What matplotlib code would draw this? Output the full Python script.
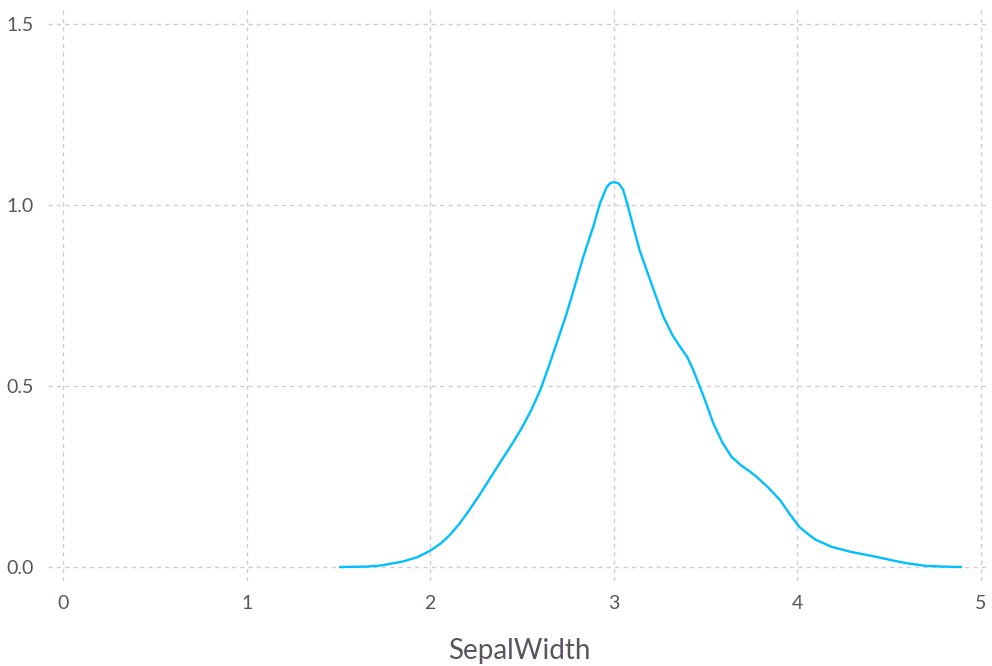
import matplotlib
matplotlib.use("Agg")
import matplotlib.pyplot as plt

# density curve
sepal_width = [1.51, 1.65, 1.73, 1.85, 1.93, 2.0, 2.06, 2.11, 2.16, 2.21,
               2.27, 2.33, 2.39, 2.45, 2.50, 2.55, 2.60, 2.65, 2.70, 2.743,
               2.79, 2.834, 2.888, 2.925, 2.96, 2.98, 3.0, 3.025, 3.05, 3.075,
               3.106, 3.14, 3.179, 3.23, 3.27, 3.32, 3.36, 3.40, 3.433, 3.49,
               3.542, 3.59, 3.64, 3.69, 3.74, 3.778, 3.84, 3.905, 3.96, 4.01,
               4.06, 4.1, 4.19, 4.29, 4.43, 4.52, 4.6, 4.7, 4.8, 4.89]
density = [0.0, 0.001, 0.004, 0.015, 0.027, 0.045, 0.066, 0.090, 0.120, 0.155,
           0.200, 0.248, 0.296, 0.343, 0.385, 0.433, 0.489, 0.56, 0.635, 0.70,
           0.78, 0.857, 0.94, 1.005, 1.048, 1.06, 1.063, 1.06, 1.043, 1.0,
           0.94, 0.876, 0.82, 0.747, 0.691, 0.64, 0.609, 0.58, 0.544, 0.47,
           0.397, 0.345, 0.305, 0.282, 0.264, 0.249, 0.22, 0.185, 0.145, 0.111,
           0.09, 0.075, 0.055, 0.042, 0.028, 0.018, 0.010, 0.003, 0.001, 0.0]
x_ticks = [0, 1, 2, 3, 4, 5]
y_ticks = [0.0, 0.5, 1.0, 1.5]

plt.rcParams['font.family'] = ['Lato', 'DejaVu Sans']

fig = plt.figure(figsize=(9.92, 6.66), dpi=100)
ax = fig.add_axes([48 / 992, 1 - 581 / 666, (990 - 48) / 992, (581 - 8) / 666])

ax.plot(sepal_width, density, color="#00bfff", linewidth=1.7,
        solid_joinstyle="round", zorder=3)

ax.set_xlim(-0.0817, 5.049)
ax.set_ylim(-0.0387, 1.544)
ax.set_xticks(x_ticks)
ax.set_xticklabels([str(t) for t in x_ticks])
ax.set_yticks(y_ticks)
ax.set_yticklabels(["%.1f" % t for t in y_ticks])

ax.grid(True, color="#cdcbe0", linestyle=(0, (3, 3)), linewidth=1.0)
for s in ax.spines.values():
    s.set_visible(False)
ax.tick_params(length=0, labelsize=14, labelcolor="#5b535e", pad=10)

ax.set_xlabel("SepalWidth", fontsize=20, color="#5b535e", labelpad=19)

fig.savefig("out.png", dpi=100, facecolor="white")
